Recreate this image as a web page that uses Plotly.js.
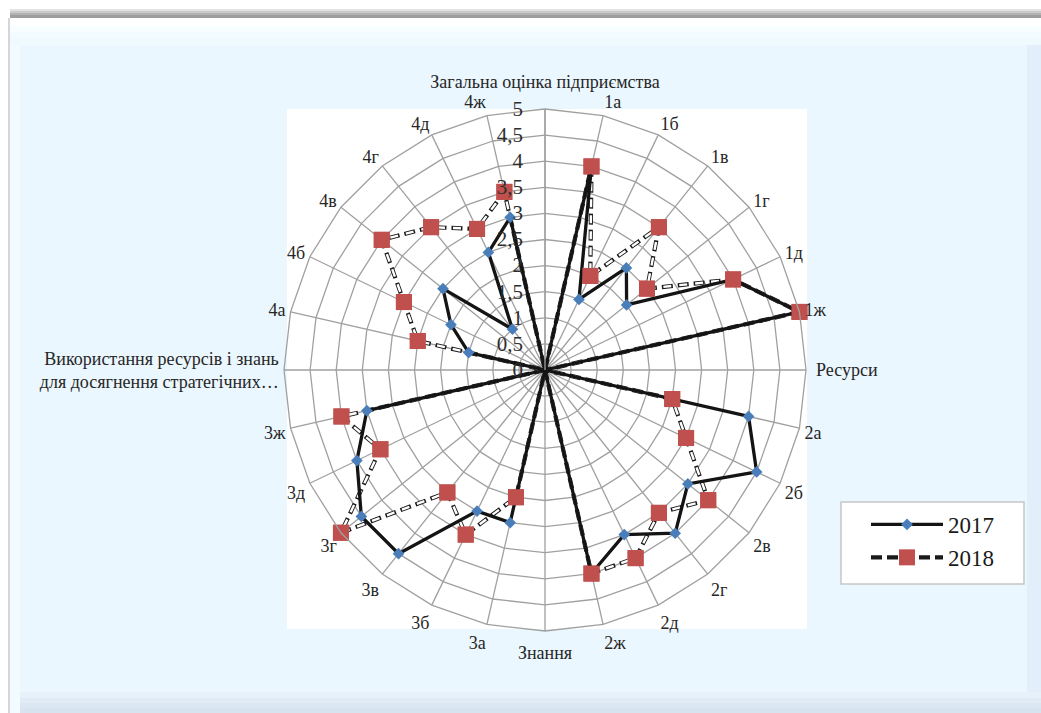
<!DOCTYPE html>
<html><head><meta charset="utf-8">
<script src="https://cdn.plot.ly/plotly-3.0.1.min.js"></script>
<style>html,body{margin:0;padding:0;background:#fff;overflow:hidden;} #chart{width:1041px;height:713px;}</style>
</head><body><div id="chart"></div>
<script>
// ---- data ----
const categories = ['Загальна оцінка підприємства','1а','1б','1в','1г','1д','1ж','Ресурси','2а','2б','2в','2г','2д','2ж','Знання','3а','3б','3в','3г','3д','3ж','Використання ресурсів і знань<br>для досягнення стратегічних…','4а','4б','4в','4г','4д','4ж'];
const values2017 = [0,4,1.5,2.5,2,4,5,0,4,4.5,3.5,4,3.5,4,0,3,3,4.5,4.5,4,3.5,0,1.5,2,2.5,1,2.5,3];
const values2018 = [0,4,2,3.5,2.5,4,5,0,2.5,3,4,3.5,4,4,0,2.5,3.5,3,5,3.5,4,0,2.5,3,4,3.5,3,3.5];
const radialTicks = [0,0.5,1,1.5,2,2.5,3,3.5,4,4.5,5];
const seriesNames = ['2017','2018'];
// section titles drawn slightly further out than the item labels
const sideLabels = ['Ресурси','Знання'];
const topLabels = ['Загальна оцінка підприємства'];

// ---- helpers ----
const W = 1041, H = 713;
function closeLoop(a){ return a.concat([a[0]]); }
function rect(x0,y0,x1,y1,fill,line){
  return {type:'rect',xref:'paper',yref:'paper',layer:'below',
    x0:x0/W,x1:x1/W,y0:1-y1/H,y1:1-y0/H,fillcolor:fill,
    line: line || {width:0}};
}
const theta = closeLoop(categories);
const serif = 'Liberation Serif';
const gridCol = '#a0a0a0';

const shapes = [
  rect(10,9,1041,11,'#e2e2e2'),
  rect(10,11,1041,13,'#cacaca'),
  rect(10,13,1041,15,'#b2b2b2'),
  rect(10,15,1041,18,'#9e9e9e'),
  rect(8,18,1041,713,'#ebf7fe'),
  rect(8,18,10,713,'#d6d6d6'),
  rect(10,18,20,713,'#f2fbff'),
  rect(10,18,1041,26,'#ffffff'),
  rect(10,26,1041,32,'#f8fdff'),
  rect(10,32,1041,38,'#f2fbff'),
  rect(10,38,1041,45,'#eefafe'),
  rect(1027,45,1041,713,'#e3eefb'),
  rect(20,692,1041,698,'#e6f1fa'),
  rect(20,698,1041,703,'#e0ebf5'),
  rect(20,703,1041,708,'#dbe7f1'),
  rect(20,708,1041,713,'#d7e3ee'),
  rect(287,109,807,629,'#ffffff'),
  rect(841,502,1024,584,'#ffffff',{color:'#c6c6c6',width:1.5})
];

function carrier(sp){
  return {type:'scatterpolar', subplot:sp, theta:theta, r:closeLoop(values2017),
    mode:'lines', line:{width:0, color:'rgba(0,0,0,0)'}, opacity:0,
    showlegend:false, hoverinfo:'skip'};
}

const traces = [
  {
    type:'scatterpolar', name:seriesNames[1], theta:theta, r:closeLoop(values2018),
    mode:'lines+markers', legendrank:2,
    line:{color:'#1a1a1a', width:4.2, dash:'11px,5px'},
    marker:{symbol:'square', size:16, color:'#c0504d', line:{width:0}},
    cliponaxis:false
  },
  {
    type:'scatterpolar', name:seriesNames[1]+' inner', theta:theta, r:closeLoop(values2018),
    mode:'lines', showlegend:false, hoverinfo:'skip',
    line:{color:'#ffffff', width:2.4, dash:'0px,1.5px,8px,6.5px'},
    cliponaxis:false
  },
  {
    type:'scatterpolar', name:seriesNames[0], theta:theta, r:closeLoop(values2017),
    mode:'lines+markers', legendrank:1,
    line:{color:'#141414', width:3.3},
    marker:{symbol:'diamond', size:9, color:'#4a7ebb', line:{width:0}},
    cliponaxis:false
  },
  {
    type:'scatterpolar', name:seriesNames[1], theta:theta, r:closeLoop(values2018),
    mode:'markers', showlegend:false,
    marker:{symbol:'square', size:16, color:'#c0504d', line:{width:0}},
    cliponaxis:false
  },
  carrier('polar2'),
  carrier('polar3')
];

const outer = sideLabels.concat(topLabels);
const innerText = categories.map(c => outer.includes(c) ? '' : c);
const sideText = categories.map(c => sideLabels.includes(c) ? c : '');
const topText = categories.map(c => topLabels.includes(c) ? c : '');
const domain = {x:[284/W, 806/W], y:[1-631/H, 1-109/H]};
const angBase = {
  type:'category', categoryorder:'array', categoryarray:categories,
  rotation:90, direction:'clockwise', tickmode:'array', tickvals:categories,
  tickfont:{family:serif, size:18, color:'#262626'}
};
function labelPolar(text, len){
  return {
    domain:domain, bgcolor:'rgba(0,0,0,0)', gridshape:'linear',
    angularaxis:Object.assign({}, angBase, {
      ticktext:text, showline:false, showgrid:false,
      ticks:'outside', ticklen:len, tickcolor:'rgba(0,0,0,0)'
    }),
    radialaxis:{range:[0,5], visible:false}
  };
}

const layout = {
  width:W, height:H,
  margin:{l:0,r:0,t:0,b:0},
  paper_bgcolor:'#ffffff',
  font:{family:serif, color:'#1a1a1a'},
  separators:', ',
  showlegend:true,
  shapes:shapes,
  legend:{x:866/W, y:1-503/H, xanchor:'left', yanchor:'top', bgcolor:'rgba(0,0,0,0)',
    borderwidth:0, font:{family:serif, size:23, color:'#1a1a1a'}, itemwidth:72, tracegroupgap:0},
  polar:{
    domain:domain,
    bgcolor:'rgba(0,0,0,0)',
    gridshape:'linear',
    angularaxis:Object.assign({}, angBase, {
      ticktext:innerText,
      showline:true, linecolor:gridCol, linewidth:1.3,
      showgrid:true, gridcolor:gridCol, gridwidth:1.3,
      ticks:'outside', ticklen:1, tickcolor:'rgba(0,0,0,0)'
    }),
    radialaxis:{
      range:[0,5], tickvals:radialTicks, angle:90, side:'counterclockwise',
      showline:true, linecolor:gridCol, linewidth:1.3,
      showgrid:true, gridcolor:gridCol, gridwidth:1.3,
      ticks:'outside', ticklen:14, tickcolor:'rgba(0,0,0,0)',
      tickangle:90,
      tickfont:{family:serif, size:21, color:'#2e2e2e'}
    }
  },
  polar2:labelPolar(sideText, 6),
  polar3:labelPolar(topText, 13)
};

Plotly.newPlot('chart', traces, layout, {displayModeBar:false, staticPlot:true});
</script>
</body></html>
